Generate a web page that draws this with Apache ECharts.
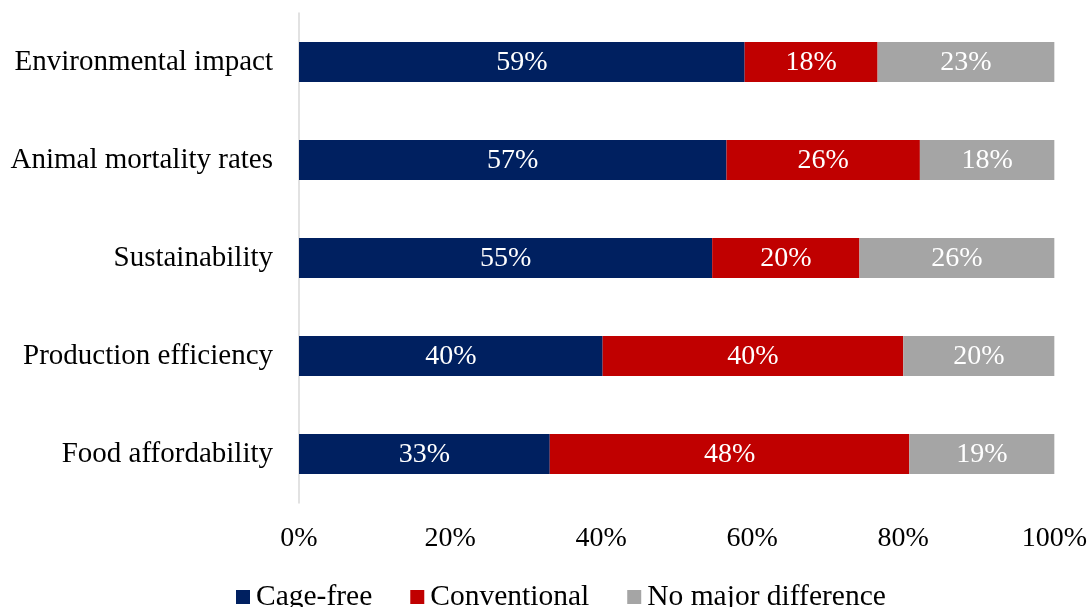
<!DOCTYPE html>
<html><head><meta charset="utf-8">
<script src="https://cdn.jsdelivr.net/npm/echarts@6/dist/echarts.min.js"></script>
<style>html,body{margin:0;padding:0;background:#fff}#c{width:1090px;height:607px}</style>
</head><body><div id="c"></div>
<script>
const categories = ['Food affordability','Production efficiency','Sustainability','Animal mortality rates','Environmental impact'];
const cageFree = [33.2, 40.2, 54.7, 56.6, 59.0];
const conventional = [47.6, 39.8, 19.5, 25.6, 17.6];
const noDifference = [19.2, 20.0, 25.8, 17.8, 23.4];
const seriesNames = ['Cage-free','Conventional','No major difference'];
const xTicks = [0, 20, 40, 60, 80, 100];

const FONT = '"Liberation Serif","Times New Roman",serif';
const colors = ['#002060','#C00000','#A5A5A5'];
const chart = echarts.init(document.getElementById('c'));
const mk = (name, data, i) => ({
  name, type: 'bar', stack: 'total', data, barWidth: 40,
  itemStyle: { color: colors[i] },
  label: { show: true, position: 'inside', color: '#fff', fontFamily: FONT, fontSize: 28,
    offset: [0, 1], formatter: p => Math.round(p.value) + '%' }
});
chart.setOption({
  animation: false,
  textStyle: { fontFamily: FONT },
  grid: { left: 299, right: 33, top: 13, bottom: 104, containLabel: false },
  xAxis: { type: 'value', min: xTicks[0], max: xTicks[xTicks.length-1], interval: 20,
    axisLine: { show: false }, axisTick: { show: false }, splitLine: { show: false },
    axisLabel: { color: '#000', fontFamily: FONT, fontSize: 28, margin: 22, formatter: v => v + '%' } },
  yAxis: { type: 'category', data: categories,
    axisLine: { show: true, lineStyle: { color: '#D9D9D9', width: 1.5 } },
    axisTick: { show: false },
    axisLabel: { color: '#000', fontFamily: FONT, fontSize: 29, margin: 26 } },
  legend: { top: 577, left: 231, itemWidth: 14, itemHeight: 14, itemGap: 38,
    icon: 'rect', textStyle: { color: '#000', fontFamily: FONT, fontSize: 29.5, padding: [0,0,0,1] },
    data: seriesNames },
  series: [mk(seriesNames[0], cageFree, 0), mk(seriesNames[1], conventional, 1), mk(seriesNames[2], noDifference, 2)]
});
</script></body></html>
